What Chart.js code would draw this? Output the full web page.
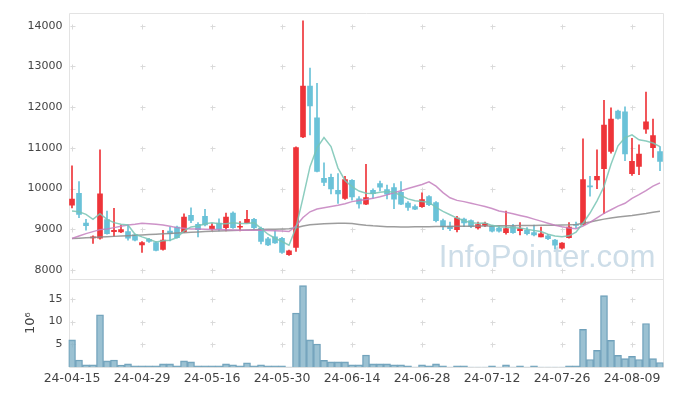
<!DOCTYPE html>
<html>
<head>
<meta charset="utf-8">
<script src="https://cdn.jsdelivr.net/npm/chart.js@4"></script>
<style>
  html, body { margin: 0; padding: 0; background: #fff; }
  #wrap { width: 673px; height: 396px; }
</style>
</head>
<body>
<div id="wrap"><canvas id="myChart" width="673" height="396"></canvas></div>
<script>
// x tick labels, one every 10 trading days starting at index 0
const tickLabels = ['24-04-15', '24-04-29', '24-05-16', '24-05-30', '24-06-14', '24-06-28', '24-07-12', '24-07-26', '24-08-09'];
const priceTicks = [8000, 9000, 10000, 11000, 12000, 13000, 14000];
const volumeTicks = [5, 10, 15];

const opens = [9594, 9886, 9154, 8790, 8780, 9236, 8943, 8935, 8943, 8862,
  8618, 8756, 8675, 8504, 8959, 9057, 8943, 9341, 9122, 9317,
  9016, 9150, 9041, 9398, 9050, 9163, 9244, 9024, 8764, 8813,
  8780, 8374, 8553, 11268, 12520, 11740, 10252, 10276, 9960, 9756,
  10203, 9748, 9618, 9959, 10122, 9975, 10024, 9910, 9642, 9561,
  9553, 9805, 9659, 9211, 9081, 8992, 9252, 9211, 9032, 9097,
  9073, 9032, 8919, 9065, 8967, 8976, 8919, 8813, 8837, 8732,
  8537, 8797, 9122, 9122, 10057, 10211, 10488, 10911, 11902, 11886,
  10366, 10545, 11463, 11008, 10911];
const closes = [9740, 9366, 9089, 8810, 9870, 8894, 8976, 8992, 8780, 8732,
  8675, 8700, 8480, 8732, 8894, 8797, 9301, 9220, 8992, 9106,
  9081, 9010, 9301, 9041, 9065, 9244, 9041, 8700, 8618, 8667,
  8431, 8472, 11008, 12520, 12032, 10423, 10154, 9992, 9870, 10219,
  9797, 9626, 9780, 9878, 10033, 9862, 9740, 9618, 9537, 9496,
  9732, 9602, 9211, 9073, 9016, 9276, 9154, 9073, 9114, 9146,
  8951, 8951, 9016, 8919, 9016, 8894, 8862, 8886, 8772, 8610,
  8659, 9057, 9098, 10220, 10041, 10301, 11561, 11707, 11723, 10854,
  10667, 10846, 11642, 11301, 10667];
const highs = [10561, 10171, 9244, 8837, 10951, 9447, 9512, 9106, 9106, 8880,
  8700, 8780, 8700, 8976, 9057, 9080, 9382, 9528, 9163, 9488,
  9140, 9260, 9398, 9430, 9187, 9463, 9270, 9057, 8800, 8959,
  8800, 8490, 11024, 14122, 12959, 12585, 10634, 10358, 10366, 10301,
  10220, 9805, 10594, 9992, 10187, 10089, 10122, 10171, 9683, 9600,
  9894, 9830, 9683, 9252, 9179, 9317, 9276, 9230, 9179, 9179,
  9100, 9073, 9447, 9122, 9163, 9041, 9106, 9057, 8878, 8756,
  8675, 9163, 9179, 11220, 10301, 10951, 12171, 11984, 11927, 12008,
  11236, 11073, 12374, 11707, 11033];
const lows = [9528, 9285, 8976, 8650, 8756, 8880, 8829, 8919, 8732, 8715,
  8431, 8680, 8470, 8488, 8716, 8780, 8919, 9163, 8813, 9081,
  8980, 8960, 8959, 9020, 8959, 9154, 9000, 8640, 8600, 8651,
  8410, 8360, 8455, 11252, 11317, 10407, 10073, 9870, 9634, 9732,
  9716, 9520, 9602, 9764, 9943, 9748, 9504, 9602, 9463, 9480,
  9537, 9580, 9179, 8992, 8967, 8935, 9065, 9040, 9000, 9065,
  8935, 8927, 8878, 8900, 8862, 8862, 8837, 8813, 8748, 8512,
  8512, 8780, 9040, 9106, 9813, 10000, 9382, 10870, 11707, 10683,
  10325, 10341, 11358, 10764, 10439];

// moving averages
const ma5 = [9447, 9431, 9366, 9244, 9382, 9244, 9163, 9122, 9106, 8878,
  8813, 8756, 8691, 8716, 8732, 8797, 8959, 9057, 9081, 9138,
  9163, 9138, 9138, 9160, 9140, 9140, 9163, 9024, 8878, 8780,
  8699, 8610, 9041, 9772, 10540, 11000, 11252, 11033, 10504, 10200,
  10050, 9940, 9886, 9878, 9911, 9927, 9911, 9829, 9748, 9699,
  9683, 9667, 9537, 9439, 9358, 9276, 9211, 9163, 9146, 9154,
  9097, 9065, 9050, 9040, 9030, 9000, 8970, 8945, 8880, 8835,
  8815, 8840, 8930, 9150, 9400, 9700, 10050, 10600, 11050, 11250,
  11320, 11200, 11170, 11120, 11030];
const ma20 = [8772, 8837, 8894, 8943, 8992, 9008, 9041, 9073, 9106, 9122,
  9146, 9138, 9122, 9106, 9073, 9041, 9024, 9008, 9008, 9000,
  8992, 8992, 8990, 8985, 8976, 8976, 8976, 8976, 8972, 8962,
  8955, 8945, 9080, 9290, 9430, 9500, 9530, 9560, 9590, 9630,
  9680, 9710, 9730, 9760, 9800, 9845, 9900, 9945, 10000, 10050,
  10100, 10165, 10060, 9900, 9775, 9710, 9680, 9640, 9600, 9560,
  9510, 9450, 9420, 9380, 9340, 9300, 9250, 9200, 9150, 9100,
  9060, 9030, 9015, 9080, 9170, 9280, 9390, 9480, 9570, 9640,
  9760, 9850, 9950, 10060, 10140];
const ma60 = [8772, 8781, 8790, 8799, 8808, 8817, 8826, 8835, 8844, 8853,
  8862, 8871, 8880, 8889, 8898, 8907, 8916, 8925, 8934, 8943,
  8952, 8960, 8966, 8972, 8978, 8984, 8990, 8995, 9000, 9004,
  9008, 9012, 9040, 9080, 9110, 9125, 9135, 9145, 9150, 9150,
  9140, 9120, 9100, 9085, 9075, 9065, 9060, 9058, 9058, 9060,
  9062, 9064, 9066, 9068, 9070, 9072, 9074, 9076, 9078, 9080,
  9082, 9085, 9088, 9090, 9092, 9094, 9096, 9098, 9100, 9102,
  9105, 9110, 9120, 9150, 9180, 9215, 9250, 9275, 9300, 9320,
  9340, 9365, 9390, 9420, 9445];

// volume in millions
const volumes = [6.0, 1.6, 0.55, 0.55, 11.5, 1.4, 1.6, 0.5, 0.75, 0.3,
  0.3, 0.3, 0.3, 0.75, 0.75, 0.3, 1.4, 1.2, 0.3, 0.3,
  0.3, 0.3, 0.75, 0.55, 0.3, 1.0, 0.3, 0.55, 0.3, 0.3,
  0.3, 0.05, 11.9, 17.9, 6.0, 5.1, 1.5, 1.2, 1.2, 1.2,
  0.55, 0.55, 2.7, 0.75, 0.75, 0.75, 0.55, 0.55, 0.3, 0.05,
  0.55, 0.3, 0.75, 0.3, 0.05, 0.3, 0.3, 0.05, 0.05, 0.05,
  0.3, 0.05, 0.55, 0.05, 0.3, 0.05, 0.3, 0.05, 0.05, 0.05,
  0.05, 0.3, 0.3, 8.3, 1.7, 3.7, 15.7, 5.9, 2.6, 1.9,
  2.4, 1.7, 9.6, 1.9, 1.05];

const UP = '#ee3439';
const DOWN = '#6ac2d8';
const candleColors = opens.map((o, i) => closes[i] >= o ? UP : DOWN);
const n = opens.length;

const axisFont = { family: 'DejaVu Sans', size: 11 };

// watermark, crosses at grid intersections and panel frame
const panelPlugin = {
  id: 'panel',
  beforeDatasetsDraw(chart) {
    const { ctx, chartArea: a, scales } = chart;
    const x = scales.x, y = scales.y, y2 = scales.y2;
    ctx.save();

    ctx.fillStyle = '#cddde8';
    ctx.font = '32px "Liberation Sans"';
    const w = ctx.measureText('InfoPointer.com').width;
    ctx.font = (32 * 217 / w).toFixed(1) + 'px "Liberation Sans"';
    ctx.textAlign = 'right';
    ctx.textBaseline = 'alphabetic';
    ctx.fillText('InfoPointer.com', a.right - 8, y.bottom - 12);

    ctx.strokeStyle = '#dadada';
    ctx.lineWidth = 1;
    ctx.beginPath();
    const cross = (px, py) => {
      px = Math.round(px) + 0.5; py = Math.round(py) + 0.5;
      ctx.moveTo(px - 2, py); ctx.lineTo(px + 3, py);
      ctx.moveTo(px, py - 2); ctx.lineTo(px, py + 3);
    };
    x.ticks.forEach(t => {
      const px = x.getPixelForValue(t.value);
      priceTicks.forEach(v => cross(px, y.getPixelForValue(v)));
      volumeTicks.forEach(v => cross(px, y2.getPixelForValue(v)));
    });
    ctx.stroke();

    ctx.strokeStyle = '#e3e3e3';
    ctx.beginPath();
    const l = Math.round(a.left) + 0.5, r = Math.round(a.right) - 0.5;
    const t = Math.round(a.top) + 0.5, b = Math.round(a.bottom) + 0.5;
    const mid = Math.round(y.bottom) + 0.5;
    ctx.moveTo(l, t); ctx.lineTo(r, t);
    ctx.moveTo(r, t); ctx.lineTo(r, b);
    ctx.moveTo(l, t); ctx.lineTo(l, b);
    ctx.moveTo(l, mid); ctx.lineTo(r, mid);
    ctx.moveTo(l, b); ctx.lineTo(r, b);
    ctx.stroke();
    ctx.restore();
  }
};

const lineDs = (data, color) => ({
  type: 'line',
  data: data.map((v, i) => ({ x: i, y: v })),
  yAxisID: 'y',
  borderColor: color,
  borderWidth: 1.5,
  pointRadius: 0,
  fill: false,
  tension: 0,
  order: 0
});

const ctx = document.getElementById('myChart').getContext('2d');
const myChart = new Chart(ctx, {
  type: 'bar',
  data: {
    datasets: [
      lineDs(ma5, 'rgba(120, 196, 180, 0.85)'),
      lineDs(ma20, 'rgba(196, 128, 190, 0.85)'),
      lineDs(ma60, 'rgba(140, 140, 140, 0.85)'),
      {
        data: opens.map((o, i) => ({ x: i, y: [o, closes[i]] })),
        yAxisID: 'y',
        backgroundColor: candleColors,
        barThickness: 5,
        minBarLength: 1,
        grouped: false,
        order: 1
      },
      {
        data: lows.map((lo, i) => ({ x: i, y: [lo, highs[i]] })),
        yAxisID: 'y',
        backgroundColor: candleColors,
        barThickness: 1,
        grouped: false,
        order: 2
      },
      {
        data: volumes.map((v, i) => ({ x: i, y: v })),
        yAxisID: 'y2',
        backgroundColor: 'rgba(130, 178, 199, 0.8)',
        borderColor: 'rgba(95, 150, 178, 0.9)',
        borderWidth: 1,
        barPercentage: 1,
        categoryPercentage: 1,
        grouped: false,
        order: 3
      }
    ]
  },
  options: {
    responsive: false,
    animation: false,
    devicePixelRatio: 1,
    layout: { padding: { top: 10, right: 9.5, left: 0, bottom: 0 } },
    scales: {
      x: {
        type: 'linear',
        min: -0.5,
        max: n - 0.5,
        offset: false,
        grid: { display: false, drawTicks: false },
        border: { display: false },
        afterBuildTicks: s => { s.ticks = tickLabels.map((t, i) => ({ value: i * 10 })); },
        afterFit: s => { s.height = 28.7; },
        ticks: {
          callback: v => tickLabels[v / 10],
          color: '#444',
          font: { family: 'DejaVu Sans', size: 12.5 },
          padding: 4,
          maxRotation: 0,
          autoSkip: false
        }
      },
      y2: {
        type: 'linear',
        position: 'left',
        stack: 'v',
        stackWeight: 89,
        min: 0,
        max: 19.35,
        grid: { display: false, drawTicks: false },
        border: { display: false },
        afterBuildTicks: s => { s.ticks = volumeTicks.map(v => ({ value: v })); },
        afterFit: s => { s.width = 68.5; },
        ticks: { color: '#444', font: axisFont, padding: 6, callback: v => String(v) },
        title: {
          display: true,
          text: '10\u2076',
          color: '#444',
          font: { family: 'DejaVu Sans', size: 13 },
          padding: { top: 23, bottom: 0 }
        }
      },
      y: {
        type: 'linear',
        position: 'left',
        stack: 'v',
        stackWeight: 268.3,
        min: 7780,
        max: 14324,
        grid: { display: false, drawTicks: false },
        border: { display: false },
        afterBuildTicks: s => { s.ticks = priceTicks.map(v => ({ value: v })); },
        afterFit: s => { s.width = 68.5; },
        ticks: { color: '#444', font: axisFont, padding: 6, callback: v => String(v) }
      }
    },
    plugins: {
      legend: { display: false },
      tooltip: { enabled: false }
    }
  },
  plugins: [panelPlugin]
});
</script>
</body>
</html>
